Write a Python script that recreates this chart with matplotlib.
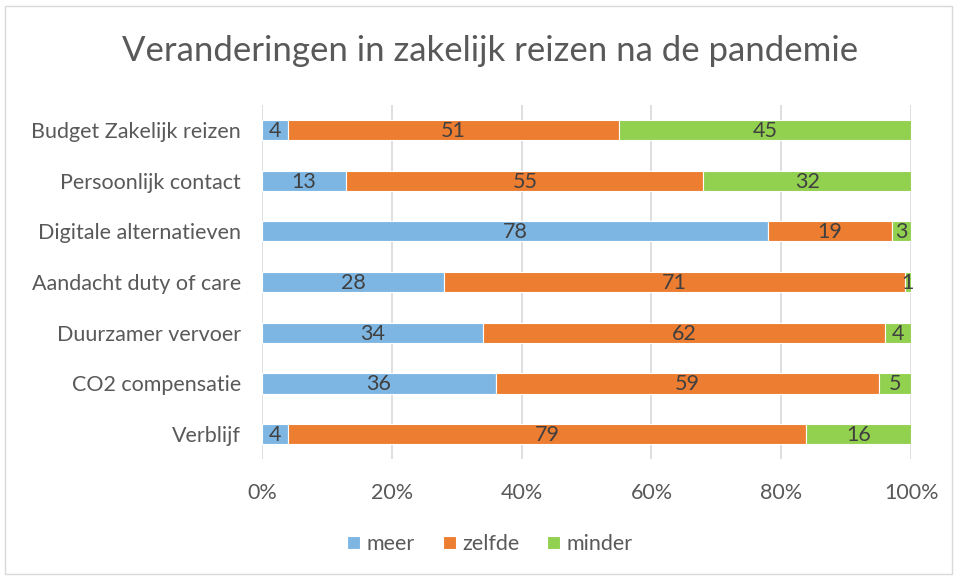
import matplotlib
matplotlib.use("Agg")
import matplotlib.pyplot as plt
import numpy as np

categories = ["Budget Zakelijk reizen", "Persoonlijk contact", "Digitale alternatieven",
              "Aandacht duty of care", "Duurzamer vervoer", "CO2 compensatie", "Verblijf"]
meer = [4, 13, 78, 28, 34, 36, 4]
zelfde = [51, 55, 19, 71, 62, 59, 79]
minder = [45, 32, 3, 1, 4, 5, 16]
series_names = ["meer", "zelfde", "minder"]
colors = ["#7EB6E3", "#ED7D31", "#92D050"]
xticks = [0, 20, 40, 60, 80, 100]

plt.rcParams['font.family'] = ['Lato', 'DejaVu Sans']

fig = plt.figure(figsize=(9.57, 5.77), dpi=100)
ax = fig.add_axes([0.2738, 0.2038, 0.952 - 0.2738, 0.6149])

FS = 15.5
data = np.array([meer, zelfde, minder], dtype=float)
totals = data.sum(axis=0)
pct = data / totals * 100
y = np.arange(len(categories))
left = np.zeros(len(categories))
for i, name in enumerate(series_names):
    ax.barh(y, pct[i], left=left, height=0.4, color=colors[i],
            edgecolor="white", linewidth=0.8, label=name, zorder=3)
    for j in range(len(categories)):
        ax.text(left[j] + pct[i][j] / 2, y[j] + 0.02, str(int(data[i][j])),
                ha="center", va="center", fontsize=FS, color="#404040", zorder=4)
    left += pct[i]

ax.set_xlim(0, 100)
ax.set_ylim(len(categories) - 0.5, -0.5)
ax.set_yticks(y)
ax.set_yticklabels(categories, fontsize=FS, color="#595959")
ax.set_xticks(xticks)
ax.set_xticklabels([f"{t}%" for t in xticks], fontsize=FS, color="#595959")
ax.tick_params(axis="both", length=0)
ax.tick_params(axis="x", pad=17)
ax.tick_params(axis="y", pad=15)
ax.grid(axis="x", color="#D9D9D9", linewidth=1.2, zorder=0)
for s in ax.spines.values():
    s.set_visible(False)

fig.text(0.512, 0.912, "Veranderingen in zakelijk reizen na de pandemie",
         ha="center", va="center", fontsize=25, color="#595959")

leg = fig.legend(loc="center", bbox_to_anchor=(0.512, 0.057), ncol=3, frameon=False,
                 fontsize=FS, handlelength=0.6, handleheight=0.6, handletextpad=0.3,
                 columnspacing=1.3)
for t in leg.get_texts():
    t.set_color("#595959")

border = plt.Rectangle((0.005, 0.005), 0.99, 0.985, transform=fig.transFigure,
                       fill=False, edgecolor="#D9D9D9", linewidth=1.0)
fig.patches.append(border)

fig.savefig("out.png", dpi=100)
